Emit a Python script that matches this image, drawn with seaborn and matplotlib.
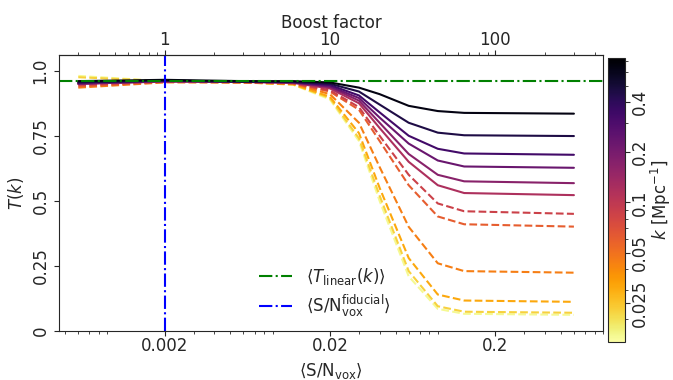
import numpy as np
import pandas as pd
import matplotlib
matplotlib.use('Agg')
import matplotlib.pyplot as plt
import seaborn as sns
from matplotlib.colors import LogNorm
from matplotlib.ticker import FixedLocator, NullFormatter

sns.set_style('ticks')
plt.rcParams['font.family'] = ['DejaVu Sans']
plt.rcParams['font.size'] = 12
for a in ('xtick', 'ytick'):
    plt.rcParams[a + '.major.size'] = 3.5
    plt.rcParams[a + '.minor.size'] = 2
    plt.rcParams[a + '.major.width'] = 0.8
    plt.rcParams[a + '.minor.width'] = 0.6
plt.rcParams['xtick.major.pad'] = 0.8
plt.rcParams['xtick.minor.pad'] = 0.8
plt.rcParams['ytick.major.pad'] = 3.5
plt.rcParams['axes.labelpad'] = 4.0

# boost factors relative to the fiducial S/N per voxel
snr_fid = 0.002
boost = [0.3, 1, 3, 6, 10, 15, 20, 30, 45, 65, 300]

# k of each curve (Mpc^-1), low k first
k_vals = [0.016, 0.0224, 0.031, 0.044, 0.061, 0.086,
          0.12, 0.17, 0.23, 0.33, 0.46, 0.64]

# T(k) for each curve at each boost
T_curves = [
    [0.98, 0.96, 0.955, 0.946, 0.89, 0.73, 0.50, 0.21, 0.085, 0.066, 0.062],
    [0.975, 0.96, 0.955, 0.947, 0.895, 0.74, 0.52, 0.23, 0.095, 0.074, 0.07],
    [0.96, 0.958, 0.955, 0.948, 0.90, 0.76, 0.55, 0.28, 0.14, 0.117, 0.112],
    [0.935, 0.955, 0.955, 0.95, 0.91, 0.80, 0.63, 0.40, 0.26, 0.23, 0.224],
    [0.94, 0.957, 0.955, 0.951, 0.92, 0.85, 0.73, 0.56, 0.44, 0.41, 0.401],
    [0.945, 0.958, 0.956, 0.952, 0.925, 0.86, 0.75, 0.60, 0.49, 0.46, 0.45],
    [0.95, 0.958, 0.957, 0.953, 0.932, 0.875, 0.78, 0.65, 0.56, 0.53, 0.522],
    [0.95, 0.96, 0.957, 0.955, 0.937, 0.885, 0.80, 0.68, 0.60, 0.575, 0.568],
    [0.95, 0.96, 0.958, 0.955, 0.94, 0.895, 0.82, 0.72, 0.655, 0.632, 0.627],
    [0.955, 0.962, 0.958, 0.956, 0.945, 0.905, 0.84, 0.75, 0.70, 0.682, 0.677],
    [0.955, 0.962, 0.958, 0.957, 0.95, 0.92, 0.87, 0.80, 0.762, 0.752, 0.749],
    [0.96, 0.965, 0.96, 0.96, 0.955, 0.935, 0.91, 0.865, 0.845, 0.838, 0.835],
]
dashed = [True] * 6 + [False] * 6

T_linear_mean = 0.96

rows = []
for k, T, d in zip(k_vals, T_curves, dashed):
    for b, t in zip(boost, T):
        rows.append({'snr': b * snr_fid, 'T': t, 'k': k, 'dashed': d})
df = pd.DataFrame(rows)

norm = LogNorm(vmin=0.0146, vmax=0.73)
cmap = 'inferno_r'

fig = plt.figure(figsize=(6.73, 3.8), dpi=100)
ax = fig.add_axes([0.088, 0.129, 0.808, 0.726])

sns.lineplot(data=df, x='snr', y='T', hue='k', palette=cmap, hue_norm=norm,
             style='dashed', dashes={True: (3.7, 1.6), False: ''},
             units='k', estimator=None, lw=1.5, legend=False, ax=ax)

ax.axhline(T_linear_mean, color='green', ls='-.', lw=1.5,
           label=r'$\langle T_{\rm linear}(k)\rangle$')
ax.axvline(snr_fid, color='blue', ls='-.', lw=1.5,
           label=r'$\langle {\rm S/N}_{\rm vox}^{\rm fiducial}\rangle$')

ax.set_xscale('log')
ax.set_xlim(0.00046, 0.9)
ax.set_ylim(0, 1.06)
ax.xaxis.set_major_locator(FixedLocator([0.002, 0.02, 0.2]))
ax.set_xticklabels(['0.002', '0.02', '0.2'])
ax.set_yticks([0, 0.25, 0.5, 0.75, 1.0])
ax.set_yticklabels(['0', '0.25', '0.5', '0.75', '1.0'], rotation=90, va='center')
ax.set_xlabel(r'$\langle {\rm S/N}_{\rm vox}\rangle$', labelpad=4)
ax.set_ylabel(r'$T(k)$')

top = ax.secondary_xaxis('top', functions=(lambda x: x / snr_fid, lambda b: b * snr_fid))
top.set_xscale('log')
top.xaxis.set_major_locator(FixedLocator([1, 10, 100]))
top.set_xticklabels(['1', '10', '100'])
top.set_xlabel('Boost factor', labelpad=2.5)

ax.legend(loc='lower left', bbox_to_anchor=(0.34, -0.01), frameon=False,
          handlelength=2.0, labelspacing=0.35)

cax = fig.add_axes([0.904, 0.1, 0.025, 0.747])
sm = plt.cm.ScalarMappable(norm=norm, cmap=cmap)
cb = fig.colorbar(sm, cax=cax)
cb.set_ticks([0.025, 0.05, 0.1, 0.2, 0.4])
cb.set_ticklabels(['0.025', '0.05', '0.1', '0.2', '0.4'])
cb.ax.tick_params(axis='y', which='major', pad=0.8)
for lab in cb.ax.get_yticklabels():
    lab.set_rotation(90)
    lab.set_va('center')
cb.ax.yaxis.set_minor_formatter(NullFormatter())
cb.set_label(r'$k\ [{\rm Mpc}^{-1}]$', labelpad=0)

fig.savefig('out.png', dpi=100)
